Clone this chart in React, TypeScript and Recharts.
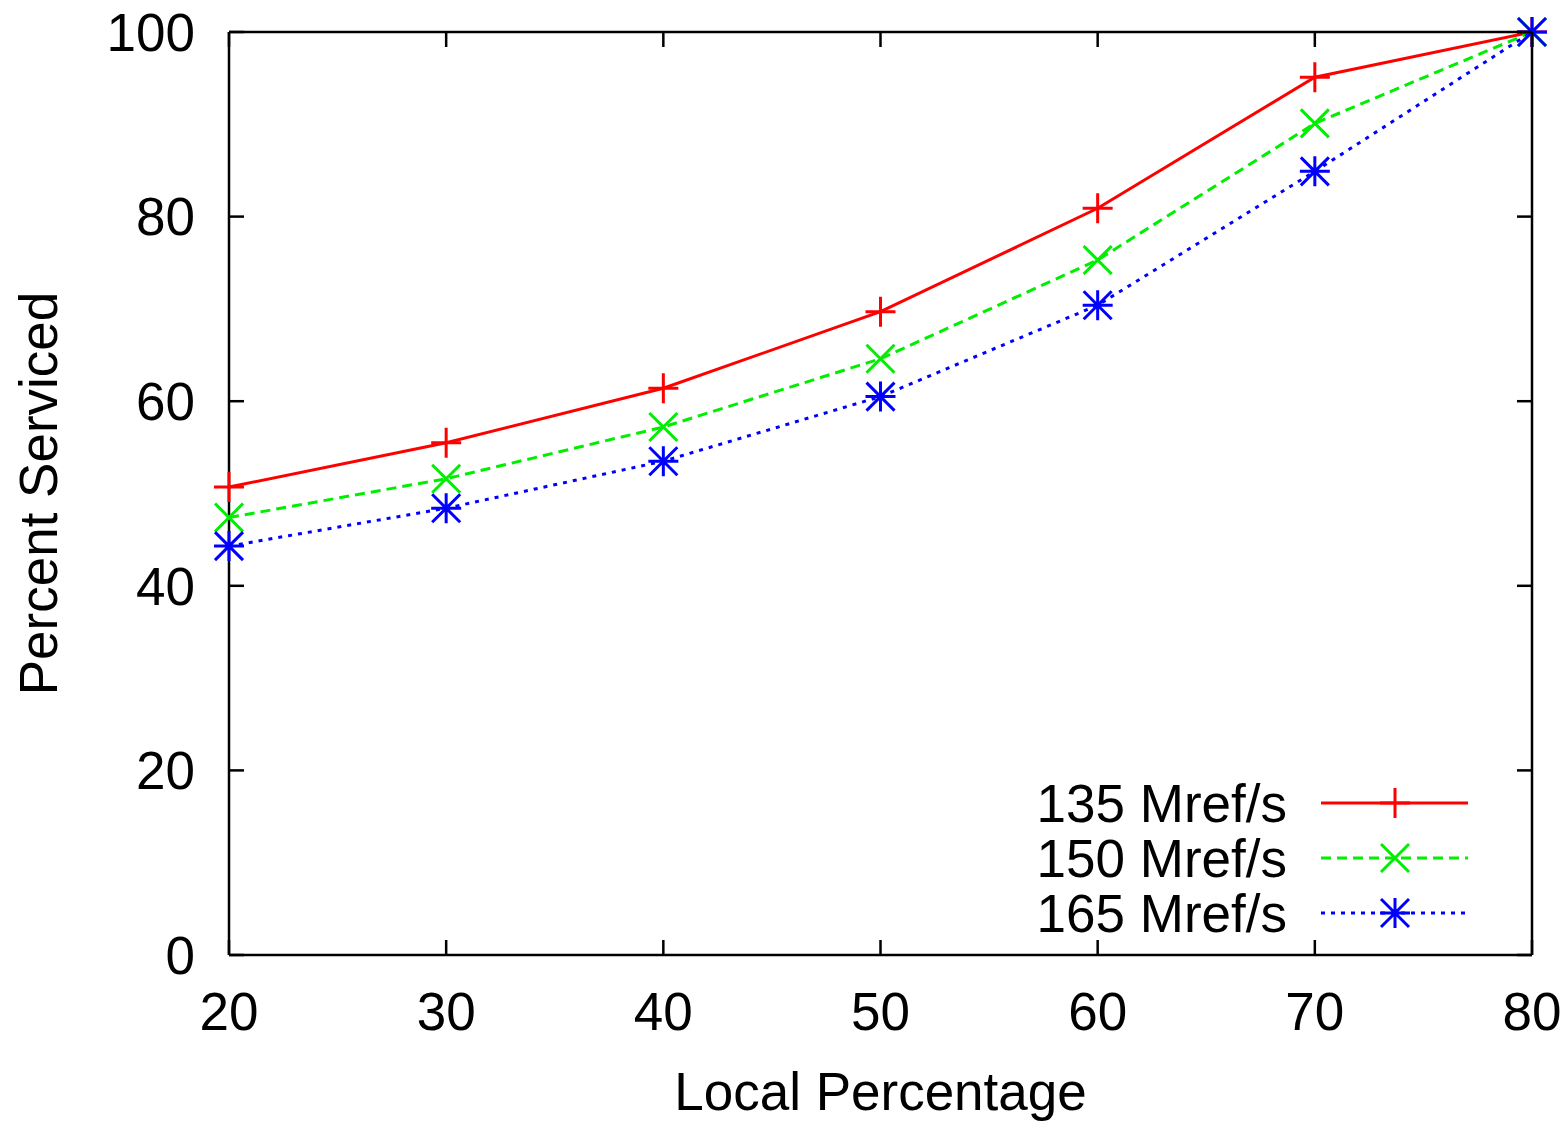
import React from "react";
import { LineChart, Line, XAxis, YAxis, Legend } from "recharts";

const localPct = [20, 30, 40, 50, 60, 70, 80];
const serviced135 = [50.7, 55.5, 61.4, 69.7, 80.9, 95.1, 100];
const serviced150 = [47.4, 51.6, 57.2, 64.6, 75.3, 90.1, 100];
const serviced165 = [44.3, 48.4, 53.5, 60.5, 70.4, 84.9, 100];
const xTicks = [20, 30, 40, 50, 60, 70, 80];
const yTicks = [0, 20, 40, 60, 80, 100];

const data = localPct.map((x, i) => ({
  x,
  s135: serviced135[i],
  s150: serviced150[i],
  s165: serviced165[i],
}));

const FONT = '"Liberation Sans", Arial, Helvetica, sans-serif';
const FS = 53;

type Shape = "plus" | "cross" | "star";

const series: { key: string; name: string; color: string; dash?: string; shape: Shape }[] = [
  { key: "s135", name: "135 Mref/s", color: "#ff0000", shape: "plus" },
  { key: "s150", name: "150 Mref/s", color: "#00ee00", dash: "10 6", shape: "cross" },
  { key: "s165", name: "165 Mref/s", color: "#0000ff", dash: "4 6", shape: "star" },
];

function Marker({ cx, cy, shape, color }: { cx: number; cy: number; shape: Shape; color: string }) {
  const r = 15;
  const d = 14;
  const plus = `M${cx - r},${cy}H${cx + r}M${cx},${cy - r}V${cy + r}`;
  const cross = `M${cx - d},${cy - d}L${cx + d},${cy + d}M${cx - d},${cy + d}L${cx + d},${cy - d}`;
  const path = shape === "plus" ? plus : shape === "cross" ? cross : plus + cross;
  return <path d={path} stroke={color} strokeWidth={3} fill="none" />;
}

function makeDot(shape: Shape, color: string) {
  return (props: any) => {
    const { cx, cy, index } = props;
    if (cx == null || cy == null) return <g key={index} />;
    return <Marker key={index} cx={cx} cy={cy} shape={shape} color={color} />;
  };
}

function LegendBox() {
  return (
    <svg width={500} height={180} style={{ display: "block", overflow: "visible" }}>
      {series.map((s, i) => {
        const cy = 33 + i * 55;
        return (
          <g key={s.key}>
            <text x={287} y={cy + 19} textAnchor="end" fontSize={FS} fontFamily={FONT} fill="#000">
              {s.name}
            </text>
            <line x1={321} x2={468} y1={cy} y2={cy} stroke={s.color} strokeWidth={3} strokeDasharray={s.dash} />
            <Marker cx={395} cy={cy} shape={s.shape} color={s.color} />
          </g>
        );
      })}
    </svg>
  );
}

const axisStyle = { stroke: "#000", strokeWidth: 2.5 };
const TICK = 15;
const Y_GAP = 34;
const X_GAP = 37;

// inward tick marks + labels, gnuplot style
const leftTick = (p: any) => (
  <g>
    <line x1={p.x + Y_GAP} x2={p.x + Y_GAP + TICK} y1={p.y} y2={p.y} {...axisStyle} />
    <text x={p.x} y={p.y} dy="0.355em" textAnchor="end" fontSize={FS} fontFamily={FONT} fill="#000">
      {p.payload.value}
    </text>
  </g>
);
const bottomTick = (p: any) => (
  <g>
    <line x1={p.x} x2={p.x} y1={p.y - X_GAP} y2={p.y - X_GAP - TICK} {...axisStyle} />
    <text x={p.x} y={p.y} dy="0.71em" textAnchor="middle" fontSize={FS} fontFamily={FONT} fill="#000">
      {p.payload.value}
    </text>
  </g>
);
const topTick = (p: any) => <line x1={p.x} x2={p.x} y1={p.y} y2={p.y + TICK} {...axisStyle} />;
const rightTick = (p: any) => <line x1={p.x} x2={p.x - TICK} y1={p.y} y2={p.y} {...axisStyle} />;

export default function App() {
  return (
    <div style={{ position: "absolute", left: 0, top: 0, background: "#fff", fontFamily: FONT }}>
      <LineChart width={1567} height={1121} data={data} margin={{ top: 31, right: 34, bottom: 0, left: 0 }}>
        <XAxis
          dataKey="x"
          type="number"
          domain={[20, 80]}
          ticks={xTicks}
          interval={0}
          height={166}
          tickSize={0}
          tickMargin={X_GAP}
          axisLine={axisStyle}
          tickLine={false}
          tick={bottomTick}
          label={{ value: "Local Percentage", position: "insideBottom", offset: 11, fill: "#000", fontSize: FS }}
        />
        <XAxis
          xAxisId="top"
          orientation="top"
          dataKey="x"
          type="number"
          domain={[20, 80]}
          ticks={xTicks}
          interval={0}
          height={1}
          tickSize={0}
          tickMargin={0}
          axisLine={axisStyle}
          tickLine={false}
          tick={topTick}
        />
        <YAxis
          type="number"
          domain={[0, 100]}
          ticks={yTicks}
          interval={0}
          width={229}
          tickSize={0}
          tickMargin={Y_GAP}
          axisLine={axisStyle}
          tickLine={false}
          tick={leftTick}
          label={{ value: "Percent Serviced", angle: -90, position: "center", dx: -76, fill: "#000", fontSize: FS }}
        />
        <YAxis
          yAxisId="right"
          orientation="right"
          type="number"
          domain={[0, 100]}
          ticks={yTicks}
          interval={0}
          width={1}
          tickSize={0}
          tickMargin={0}
          axisLine={axisStyle}
          tickLine={false}
          tick={rightTick}
        />
        <Legend
          layout="vertical"
          align="center"
          verticalAlign="middle"
          wrapperStyle={{ left: 1000, top: 770, width: 500, height: 180 }}
          content={() => <LegendBox />}
        />
        {/* invisible series so the mirrored frame axes get a scale */}
        <Line
          xAxisId="top"
          yAxisId="right"
          dataKey="s135"
          stroke="none"
          dot={false}
          activeDot={false}
          legendType="none"
          isAnimationActive={false}
        />
        {series.map((s) => (
          <Line
            key={s.key}
            type="linear"
            dataKey={s.key}
            name={s.name}
            stroke={s.color}
            strokeWidth={3}
            strokeDasharray={s.dash}
            dot={makeDot(s.shape, s.color)}
            activeDot={false}
            isAnimationActive={false}
          />
        ))}
      </LineChart>
    </div>
  );
}
